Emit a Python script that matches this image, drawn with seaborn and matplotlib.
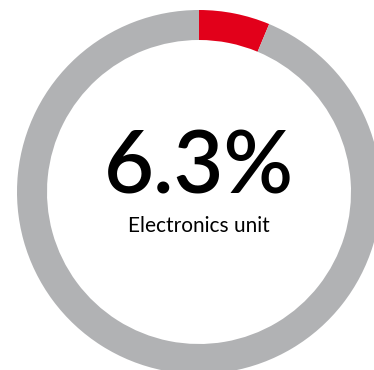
import matplotlib
matplotlib.use("Agg")
import matplotlib.pyplot as plt
import seaborn as sns

# Share of the segment and its label
share_labels = ["Electronics unit", "Other"]
share_values = [6.3, 93.7]
headline = "6.3%"
caption = "Electronics unit"

ring_colors = ["#e2001a", "#b1b2b4"]

sns.set_theme(style="white")
plt.rcParams["font.family"] = ["Lato", "DejaVu Sans"]

W, H = 374, 370
fig = plt.figure(figsize=(W / 100, H / 100), dpi=100)
ax = fig.add_axes([0, 0, 1, 1])

cx, cy = 199, H - 192
ax.pie(
    share_values,
    colors=ring_colors,
    startangle=90,
    counterclock=False,
    radius=182,
    center=(cx, cy),
    wedgeprops=dict(width=30, edgecolor="none", linewidth=0),
)
ax.set_xlim(0, W)
ax.set_ylim(0, H)
ax.set_aspect("equal")
ax.axis("off")

ax.text(cx, H - 193, headline, ha="center", va="baseline",
        fontsize=62, fontweight="semibold", color="#000000")
ax.text(cx, H - 232, caption, ha="center", va="baseline",
        fontsize=15, color="#000000")

fig.savefig("out.png", dpi=100, facecolor="white")
